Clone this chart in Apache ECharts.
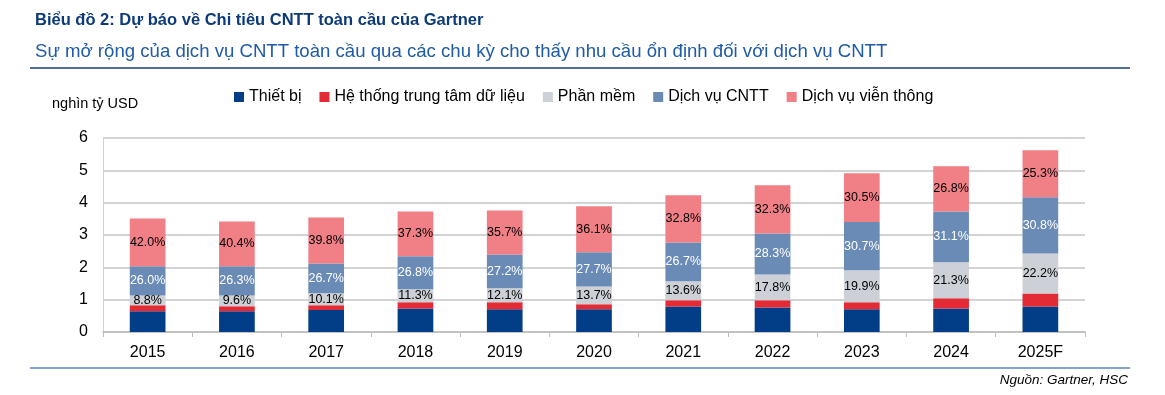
<!DOCTYPE html>
<html>
<head>
<meta charset="utf-8">
<script src="https://cdn.jsdelivr.net/npm/echarts@6/dist/echarts.min.js"></script>
<style>
html,body{margin:0;padding:0;background:#fff;}
#c{width:1165px;height:395px;}
</style>
</head>
<body>
<div id="c"></div>
<script>
var categories = ['2015','2016','2017','2018','2019','2020','2021','2022','2023','2024','2025F'];
var thietBi   = [0.64,0.64,0.68,0.73,0.70,0.70,0.79,0.76,0.70,0.73,0.79];
var trungTam  = [0.19,0.16,0.15,0.19,0.22,0.16,0.19,0.22,0.22,0.31,0.40];
var phanMem   = [0.30,0.33,0.37,0.40,0.43,0.55,0.59,0.80,0.99,1.12,1.24];
var dichVuCNTT= [0.90,0.90,0.92,1.02,1.05,1.06,1.20,1.27,1.49,1.57,1.74];
var vienThong = [1.48,1.39,1.42,1.39,1.36,1.42,1.46,1.49,1.51,1.40,1.45];
var pctPhanMem   = ['8.8%','9.6%','10.1%','11.3%','12.1%','13.7%','13.6%','17.8%','19.9%','21.3%','22.2%'];
var pctDichVu    = ['26.0%','26.3%','26.7%','26.8%','27.2%','27.7%','26.7%','28.3%','30.7%','31.1%','30.8%'];
var pctVienThong = ['42.0%','40.4%','39.8%','37.3%','35.7%','36.1%','32.8%','32.3%','30.5%','26.8%','25.3%'];
var yTicks = [0,1,2,3,4,5,6];

var FONT = 'Liberation Sans, Arial, sans-serif';

function lbl(arr, color){
  return {show:true, position:'inside', color:color, fontSize:12.5, fontFamily:FONT,
    formatter:function(p){return arr[p.dataIndex];}};
}

var chart = echarts.init(document.getElementById('c'));
chart.setOption({
  animation:false,
  textStyle:{fontFamily:FONT},
  graphic:[
    {type:'text', left:35, top:12, style:{text:'Biểu đồ 2: Dự báo về Chi tiêu CNTT toàn cầu của Gartner', fill:'#0d3b7a', font:'bold 16.5px '+FONT}},
    {type:'text', left:35, top:42, style:{text:'Sự mở rộng của dịch vụ CNTT toàn cầu qua các chu kỳ cho thấy nhu cầu ổn định đối với dịch vụ CNTT', fill:'#1f5ba6', font:'18.6px '+FONT}},
    {type:'line', shape:{x1:30,y1:68,x2:1130,y2:68}, style:{stroke:'#1a3f78', lineWidth:1.5}},
    {type:'text', left:52, top:96, style:{text:'nghìn tỷ USD', fill:'#000', font:'14.5px '+FONT}},
    {type:'line', shape:{x1:30,y1:368,x2:1130,y2:368}, style:{stroke:'#5a86c0', lineWidth:1.5}},
    {type:'text', right:37, top:373, style:{text:'Nguồn: Gartner, HSC', fill:'#000', font:'italic 13.5px '+FONT}}
  ],
  legend:{
    left:229, top:84, itemWidth:10, itemHeight:10, itemGap:18, icon:'rect',
    textStyle:{fontSize:16, color:'#000', fontFamily:FONT},
    data:['Thiết bị','Hệ thống trung tâm dữ liệu','Phần mềm','Dịch vụ CNTT','Dịch vụ viễn thông']
  },
  grid:{left:103, right:80, top:138, bottom:63, containLabel:false},
  xAxis:{
    type:'category', data:categories,
    axisLine:{lineStyle:{color:'#bdbdbd', width:1.5}},
    axisTick:{show:true, length:5, lineStyle:{color:'#bdbdbd'}},
    axisLabel:{fontSize:16, color:'#000', margin:13}
  },
  yAxis:{
    type:'value', min:0, max:6, interval:1,
    axisLine:{show:true, lineStyle:{color:'#d0d0d0'}},
    axisTick:{show:false},
    axisLabel:{fontSize:16, color:'#000', margin:15},
    splitLine:{lineStyle:{color:'#c4c4c4', width:1.5}}
  },
  series:[
    {name:'Thiết bị', type:'bar', stack:'a', barWidth:'40%', data:thietBi, itemStyle:{color:'#023e87'}},
    {name:'Hệ thống trung tâm dữ liệu', type:'bar', stack:'a', data:trungTam, itemStyle:{color:'#e32b35'}},
    {name:'Phần mềm', type:'bar', stack:'a', data:phanMem, itemStyle:{color:'#cdd1d7'}, label:lbl(pctPhanMem,'#000')},
    {name:'Dịch vụ CNTT', type:'bar', stack:'a', data:dichVuCNTT, itemStyle:{color:'#6a8bb6'}, label:lbl(pctDichVu,'#fff')},
    {name:'Dịch vụ viễn thông', type:'bar', stack:'a', data:vienThong, itemStyle:{color:'#f07f86'}, label:lbl(pctVienThong,'#000')}
  ]
});
</script>
</body>
</html>
